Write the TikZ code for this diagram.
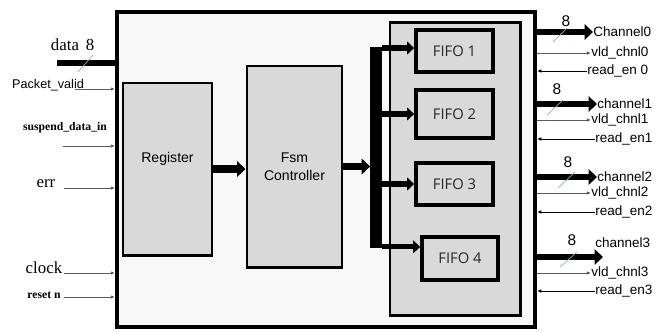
\documentclass[tikz,border=0pt]{standalone}
\usepackage{fontspec}
\setmainfont{Liberation Serif}
\setsansfont{Liberation Sans}
\newfontfamily\fifofont{Open Sans}
\usepackage{xcolor}
\definecolor{blockgray}{HTML}{D9D9D9}
\definecolor{chipbg}{HTML}{F8F8F8}
\definecolor{wiregray}{HTML}{5A5A5A}
\definecolor{slashteal}{HTML}{7FB3C2}
\usetikzlibrary{arrows.meta, positioning, calc}

\begin{document}
\begin{tikzpicture}[x=0.025cm, y=-0.025cm,
  block/.style={rectangle, draw, line width=2.1pt, fill=blockgray, inner sep=0pt,
    align=center, font=\sffamily\fontsize{10}{12.5}\selectfont},
  fifo/.style={block, line width=2.6pt, minimum width=1.925cm, font=\fifofont\fontsize{10.5}{12}\selectfont, text=black!85},
  fat/.style={line width=4.6pt, -{Triangle[length=6pt, width=11pt]}},
  branch/.style={line width=3.6pt, -{Triangle[length=5pt, width=9pt]}},
  wire/.style={line width=0.6pt, draw=wiregray, -{Latex[length=3pt, width=2.6pt]}},
  slash/.style={line width=0.5pt, slashteal},
  inlbl/.style={font=\fontsize{12}{14}\selectfont, inner sep=0pt},
  smlbl/.style={font=\bfseries\fontsize{8.3}{10}\selectfont, inner sep=0pt},
  outlbl/.style={font=\sffamily\fontsize{9.6}{11}\selectfont, inner sep=0pt, anchor=west},
  widthlbl/.style={font=\sffamily\fontsize{11}{12}\selectfont, inner sep=0pt}
]
\useasboundingbox (0,0) rectangle (656,331);

% chip outline and inner blocks
\node[rectangle, draw, line width=2.8pt, fill=chipbg, minimum width=10.45cm, minimum height=7.875cm] (chip) at (326,169.5) {};
\node[block, minimum width=2.225cm, minimum height=4.3cm] (reg) at (167.5,169) {Register\\[4pt]};
\node[block, minimum width=2.375cm, minimum height=5.025cm] (fsm) at (294.5,166.5) {Fsm\\Controller};
\node[block, minimum width=3.25cm, minimum height=7.3cm] (fifobank) at (455,169) {};
\node[fifo, minimum height=1.05cm] (fifo1) at (454.5,51) {FIFO 1};
\node[fifo, minimum height=1.2cm] (fifo2) at (454.5,114) {FIFO 2};
\node[fifo, minimum height=1.05cm] (fifo3) at (454.5,184) {FIFO 3};
\node[fifo, minimum height=1.075cm, minimum width=1.9cm] (fifo4) at (460,258.5) {FIFO 4};
\node[rectangle, fill=black, inner sep=0pt, minimum width=0.28cm, minimum height=5.025cm] (bus) at (376,147.5) {};

\draw[fat, line width=5.4pt] (reg.east) -- (reg.east -| fsm.west);
\draw[fat, line width=5.4pt] (fsm.east) -- (fsm.east -| bus.west);
\draw[branch] ([yshift=0.075cm]bus.east |- fifo1.west) -- ([yshift=0.075cm]fifo1.west);
\draw[branch] (bus.east |- fifo2.west) -- (fifo2.west);
\draw[branch] (bus.east |- fifo3.west) -- (fifo3.west);
\draw[branch] ([yshift=0.29cm]bus.east |- fifo4.west) -- ([yshift=0.29cm]fifo4.west);

% inputs
\node[inlbl] (datalbl) at (65,45) {data};
\node[inlbl] (datawd) at (90,45) {8};
\node[font=\sffamily\fontsize{9}{10}\selectfont, inner sep=0pt] (pvlbl) at (48,85) {Packet\_valid};
\node[smlbl] (sdlbl) at (65,128) {suspend\_data\_in};
\node[inlbl] (errlbl) at (46,184) {err};
\node[inlbl] (clklbl) at (44,268) {clock};
\node[smlbl] (rstlbl) at (44,295) {reset n};

\coordinate (datain) at (57,63);
\coordinate (pvin) at (75,89);
\coordinate (sdin) at (63,146);
\coordinate (errin) at (64,188);
\coordinate (clkin) at (64,273);
\coordinate (rstin) at (64,297);

\draw[line width=4.4pt] (datain) -- (datain -| chip.west);
\draw[slash] (78,72) -- (93,55);
\draw[wire] (pvin) -- (pvin -| chip.west);
\draw[wire] (sdin) -- (sdin -| chip.west);
\draw[wire] (errin) -- (errin -| chip.west);
\draw[wire] (clkin) -- (clkin -| chip.west);
\draw[wire] (rstin) -- (rstin -| chip.west);

% outputs
\node[outlbl] (ch0) at (593,32) {Channel0};
\node[outlbl] (vld0) at (591,53) {vld\_chnl0};
\node[outlbl] (rd0) at (587,71) {read\_en 0};
\node[outlbl] (ch1) at (597,104) {channel1};
\node[outlbl] (vld1) at (591,120) {vld\_chnl1};
\node[outlbl] (rd1) at (595,139) {read\_en1};
\node[outlbl] (ch2) at (597,177) {channel2};
\node[outlbl] (vld2) at (591,193) {vld\_chnl2};
\node[outlbl] (rd2) at (595,212) {read\_en2};
\node[outlbl] (ch3) at (595,243) {channel3};
\node[outlbl] (vld3) at (591,273) {vld\_chnl3};
\node[outlbl] (rd3) at (595,291) {read\_en3};
\coordinate (ch3tip) at (603,257);

\node[widthlbl] (wd0) at (566,21) {8};
\node[widthlbl] (wd1) at (557,89) {8};
\node[widthlbl] (wd2) at (568,162) {8};
\node[widthlbl] (wd3) at (572,240) {8};

\draw[fat] (chip.east |- ch0.west) -- (ch0.west);
\draw[fat] (chip.east |- ch1.west) -- (ch1.west);
\draw[fat] (chip.east |- ch2.west) -- (ch2.west);
\draw[fat] (chip.east |- ch3tip) -- (ch3tip);
\draw[slash] (553,42) -- (567,28);
\draw[slash] (547,115) -- (563,100);
\draw[slash] (558,188) -- (575,172);
\draw[slash] (560,267) -- (577,252);

\draw[wire] (chip.east |- vld0.west) -- (vld0.west);
\draw[wire] (chip.east |- vld1.west) -- (vld1.west);
\draw[wire] (chip.east |- vld2.west) -- (vld2.west);
\draw[wire] (chip.east |- vld3.west) -- (vld3.west);
\draw[wire, draw=black] (rd0.west) -- (rd0.west -| chip.east);
\draw[wire, draw=black] (rd1.west) -- (rd1.west -| chip.east);
\draw[wire, draw=black] (rd2.west) -- (rd2.west -| chip.east);
\draw[wire, draw=black] (rd3.west) -- (rd3.west -| chip.east);
\end{tikzpicture}
\end{document}
